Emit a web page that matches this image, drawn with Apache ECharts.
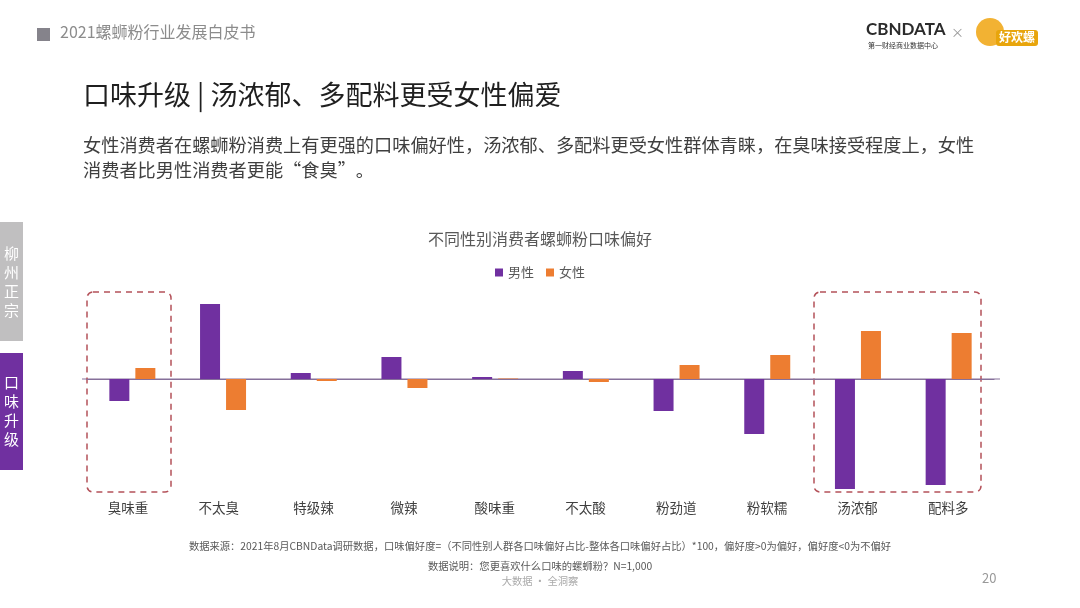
<!DOCTYPE html>
<html>
<head>
<meta charset="utf-8">
<script src="https://cdn.jsdelivr.net/npm/echarts@6/dist/echarts.min.js"></script>
<style>
  html, body { margin: 0; padding: 0; background: #fff; }
  #main { width: 1080px; height: 608px; }
</style>
</head>
<body>
<div id="main"></div>
<script>
// 口味类别
const categories = ['臭味重', '不太臭', '特级辣', '微辣', '酸味重', '不太酸', '粉劲道', '粉软糯', '汤浓郁', '配料多'];
// 偏好度
const maleValues = [-22, 75, 6, 22, 2, 8, -32, -55, -110, -106];
const femaleValues = [11, -31, -2, -9, 0.5, -3, 14, 24, 48, 46];
const seriesNames = ['男性', '女性'];

const FONT = '"Noto Sans CJK SC", "Noto Sans", sans-serif';
const chart = echarts.init(document.getElementById('main'));

// 文字
function txt(x, y, text, size, color, extra) {
  return {
    type: 'text', left: x, top: y, silent: true,
    style: Object.assign({ text: text, fontSize: size, fill: color, fontFamily: FONT }, extra || {})
  };
}

const option = {
  backgroundColor: '#fff',
  animation: false,
  textStyle: { fontFamily: FONT },
  color: ['#7030A0', '#ED7D31'],
  title: {
    text: '不同性别消费者螺蛳粉口味偏好',
    left: 'center',
    top: 226,
    textStyle: { fontSize: 16, fontWeight: 'normal', color: '#595959', fontFamily: FONT }
  },
  legend: {
    top: 261,
    left: 'center',
    itemWidth: 8,
    itemHeight: 8,
    itemGap: 12,
    icon: 'rect',
    textStyle: { fontSize: 13, color: '#595959', fontFamily: FONT },
    data: seriesNames
  },
  grid: { left: 87, right: 86, top: 290, height: 200 },
  xAxis: {
    type: 'category',
    data: categories,
    axisLine: { onZero: true, lineStyle: { color: '#86709a', width: 1.2 } },
    axisTick: { show: false },
    axisLabel: { show: false }
  },
  yAxis: {
    type: 'value',
    min: -111,
    max: 89,
    show: false,
    splitLine: { show: false }
  },
  series: [
    { name: seriesNames[0], type: 'bar', data: maleValues, barWidth: 20, barGap: '30%' },
    { name: seriesNames[1], type: 'bar', data: femaleValues, barWidth: 20, barGap: '30%' }
  ],
  graphic: []
};

const g = [];
// 零线两端略长于网格
g.push({ type: 'line', silent: true, shape: { x1: 82, y1: 379, x2: 1000, y2: 379 },
  style: { stroke: '#86709a', lineWidth: 1.2 }, z: -1 });

// 类别标签放在图下方
categories.forEach(function (c, i) {
  g.push({
    type: 'text', silent: true, x: 132 + 90.7 * i - (i < 2 ? 4 : 0), y: 508,
    style: { text: c, fontSize: 13.5, fill: '#404040', fontFamily: FONT, align: 'center', verticalAlign: 'middle' }
  });
});

// 虚线框
g.push({ type: 'rect', silent: true, shape: { x: 87, y: 292, width: 84, height: 200, r: 6 },
  style: { fill: 'none', stroke: '#b4525a', lineWidth: 1.5, lineDash: [6, 5] } });
g.push({ type: 'rect', silent: true, shape: { x: 814, y: 292, width: 167, height: 200, r: 6 },
  style: { fill: 'none', stroke: '#b4525a', lineWidth: 1.5, lineDash: [6, 5] } });

// 页眉
g.push({ type: 'rect', silent: true, shape: { x: 37, y: 28, width: 13, height: 13 }, style: { fill: '#85838b' } });
g.push(txt(60, 24, '2021螺蛳粉行业发展白皮书', 16, '#8c8c8c'));

// logo
g.push(txt(866, 21, 'CBNDATA', 17, '#2b2b2b', { fontWeight: 'bold', fontFamily: 'Lato, sans-serif' }));
g.push(txt(868, 42, '第一财经商业数据中心', 7, '#333'));
g.push(txt(951, 26, '×', 13, '#999'));
g.push({ type: 'circle', silent: true, shape: { cx: 990, cy: 32, r: 14 }, style: { fill: '#f2b233' } });
g.push({ type: 'rect', silent: true, shape: { x: 996, y: 30, width: 42, height: 16, r: 3 }, style: { fill: '#e8a50c' } });
g.push(txt(999, 31, '好欢螺', 12, '#fff', { fontWeight: 'bold' }));

// 标题与说明
g.push(txt(83, 81, '口味升级 | 汤浓郁、多配料更受女性偏爱', 27, '#1f1f1f'));
g.push(txt(83, 136, '女性消费者在螺蛳粉消费上有更强的口味偏好性，汤浓郁、多配料更受女性群体青睐，在臭味接受程度上，女性', 18.2, '#3f3f3f'));
g.push(txt(83, 161, '消费者比男性消费者更能“食臭”。', 18.2, '#3f3f3f'));

// 侧边栏
g.push({ type: 'rect', silent: true, shape: { x: 0, y: 222, width: 23, height: 119 }, style: { fill: '#c0bfc0' } });
g.push(txt(4, 244, '柳\n州\n正\n宗', 15, '#fff', { lineHeight: 19 }));
g.push({ type: 'rect', silent: true, shape: { x: 0, y: 353, width: 23, height: 117 }, style: { fill: '#7030A0' } });
g.push(txt(4, 373, '口\n味\n升\n级', 15, '#fff', { lineHeight: 19 }));

// 页脚
g.push({ type: 'text', silent: true, x: 540, y: 546,
  style: { text: '数据来源：2021年8月CBNData调研数据，口味偏好度=（不同性别人群各口味偏好占比-整体各口味偏好占比）*100，偏好度>0为偏好，偏好度<0为不偏好',
    fontSize: 10.3, fill: '#595959', fontFamily: FONT, align: 'center', verticalAlign: 'middle' } });
g.push({ type: 'text', silent: true, x: 540, y: 566,
  style: { text: '数据说明：您更喜欢什么口味的螺蛳粉？N=1,000', fontSize: 10.3, fill: '#595959', fontFamily: FONT, align: 'center', verticalAlign: 'middle' } });
g.push({ type: 'text', silent: true, x: 540, y: 581,
  style: { text: '大数据 · 全洞察', fontSize: 10.3, fill: '#aaa', fontFamily: FONT, align: 'center', verticalAlign: 'middle' } });
g.push(txt(982, 572, '20', 13, '#999'));

option.graphic = g;
chart.setOption(option);
</script>
</body>
</html>
